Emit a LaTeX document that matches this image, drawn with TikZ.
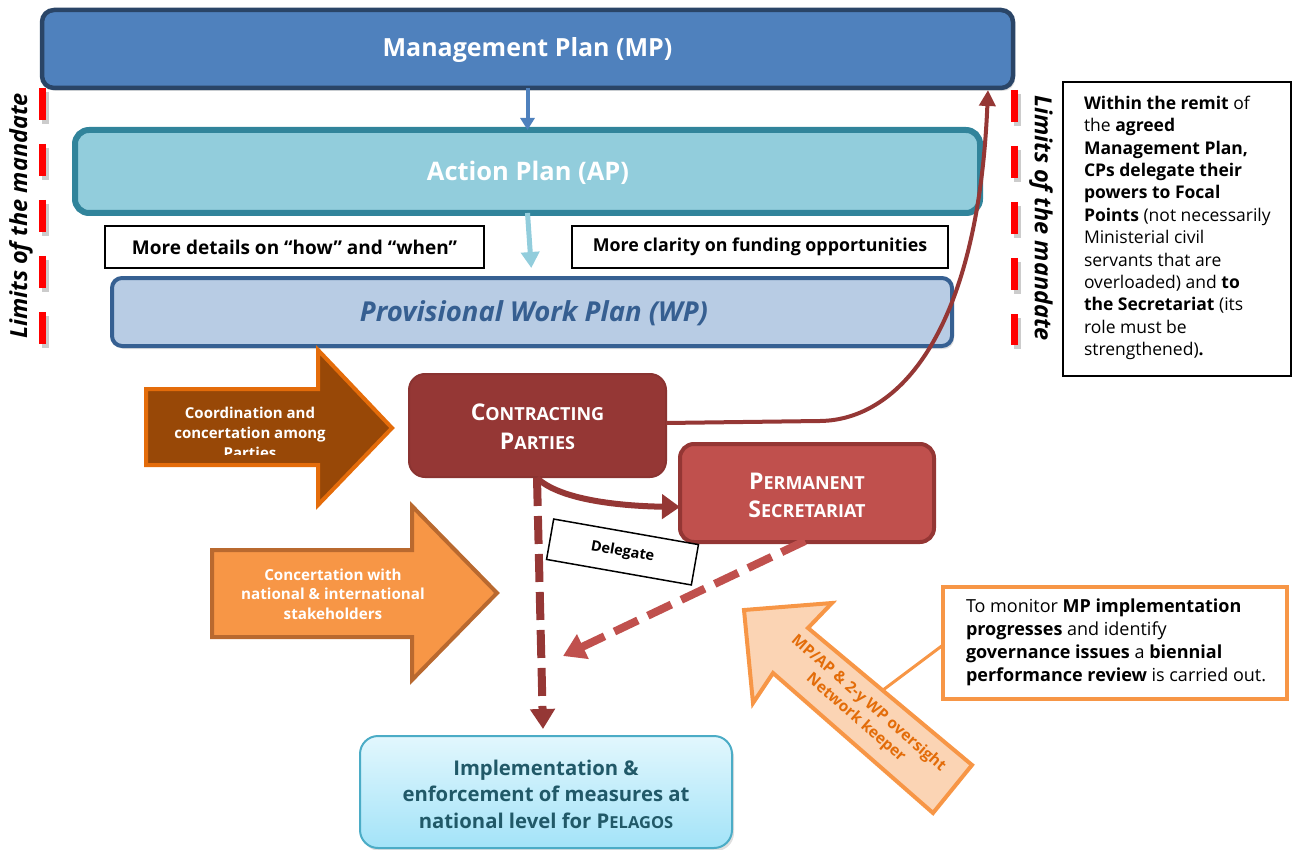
\documentclass[tikz,border=0pt]{standalone}
\usepackage{fontspec}
\setmainfont{Open Sans}
\usetikzlibrary{arrows.meta,shadows,calc}
\definecolor{mpfill}{HTML}{4F81BD}
\definecolor{mpline}{HTML}{2A4567}
\definecolor{apfill}{HTML}{92CDDC}
\definecolor{apline}{HTML}{31849B}
\definecolor{wpfill}{HTML}{B8CCE4}
\definecolor{wpline}{HTML}{366092}
\definecolor{wptext}{HTML}{365F91}
\definecolor{cpfill}{HTML}{953735}
\definecolor{cpline}{HTML}{8A3331}
\definecolor{psfill}{HTML}{C0504D}
\definecolor{psline}{HTML}{943634}
\definecolor{cofill}{HTML}{984807}
\definecolor{coline}{HTML}{E46C0A}
\definecolor{cnfill}{HTML}{F79646}
\definecolor{cnline}{HTML}{B9692F}
\definecolor{ovfill}{HTML}{FBD4B4}
\definecolor{ovline}{HTML}{F79646}
\definecolor{ovtext}{HTML}{E36C09}
\definecolor{imtop}{HTML}{E2F7FD}
\definecolor{imbot}{HTML}{A3E3F8}
\definecolor{imline}{HTML}{4BACC6}
\definecolor{imtext}{HTML}{215968}
\definecolor{redline}{HTML}{FF0000}
\newcommand{\scx}[1]{{\fontsize{18}{20}\selectfont #1}}
\newcommand{\scy}[1]{{\fontsize{16.5}{20}\selectfont #1}}
\begin{document}
\begin{tikzpicture}[x=1pt,y=-1pt,
  every node/.style={inner sep=0pt, outer sep=0pt},
  bigbox/.style={rounded corners=12pt, drop shadow={opacity=0.25,shadow xshift=2pt,shadow yshift=-3pt}},
  notebox/.style={draw=black, line width=1.5pt, fill=white},
  whitebold/.style={text=white, font=\bfseries},
  blockarrow/.style={line width=4pt, line join=miter},
  mandate/.style={draw=redline, line width=7pt, dash pattern=on 32pt off 24pt},
  mandateshadow/.style={draw=black!40, opacity=0.5, line width=7pt, dash pattern=on 32pt off 24pt},
  mandatetext/.style={font=\fontsize{23.5}{26}\selectfont\bfseries\itshape}
]
\useasboundingbox (0,0) rectangle (1292,850);

% ---- mandate limits
\coordinate (lt) at (42,88); \coordinate (lb) at (42,345);
\coordinate (rt) at (1014,90); \coordinate (rb) at (1014,345);
\draw[mandateshadow] ($(lt)+(3,4)$) -- ($(lb)+(3,4)$);
\draw[mandateshadow] ($(rt)+(3,4)$) -- ($(rb)+(3,4)$);
\draw[mandate] (lt) -- (lb);
\draw[mandate] (rt) -- (rb);
\node[mandatetext, rotate=90] (limL) at (21,216) {Limits of the mandate};
\node[mandatetext, rotate=-90] (limR) at (1041,218) {Limits of the mandate};

% ---- plans
\node[bigbox, draw=mpline, line width=4.5pt, fill=mpfill, minimum width=971pt, minimum height=78pt] (mp) at (527.5,49) {};
\node[whitebold, font=\fontsize{25}{28}\selectfont\bfseries] (mpt) at (527.5,50) {Management Plan (MP)};

\node[bigbox, draw=apline, line width=6pt, fill=apfill, rounded corners=14pt, minimum width=905pt, minimum height=83pt] (ap) at (527.5,171.5) {};
\node[whitebold, font=\fontsize{25.5}{28}\selectfont\bfseries] (apt) at (528,173) {Action Plan (AP)};

\node[bigbox, draw=wpline, line width=4pt, fill=wpfill, rounded corners=10pt, minimum width=840pt, minimum height=68pt] (wp) at (532,312) {};
\node[text=wptext, font=\fontsize{27.5}{30}\selectfont\bfseries\itshape] (wpt) at (534,313) {Provisional Work Plan (WP)};

\node[notebox, minimum width=379pt, minimum height=42pt, font=\fontsize{19}{20}\selectfont\bfseries] (how) at (294.5,247) {More details on “how” and “when”};
\node[notebox, minimum width=376pt, minimum height=42pt, font=\fontsize{17.8}{20}\selectfont\bfseries] (fund) at (760,247) {More clarity on funding opportunities};

\draw[mpfill, line width=4pt, -{Triangle[length=12pt,width=14pt]}] (mp.south) -- (ap.north);
\draw[apfill, line width=5pt, -{Triangle[length=16pt,width=18pt]}, shorten >=10pt] (ap.south) -- (wp.north);

% ---- right note
\node[notebox, minimum width=228pt, minimum height=294pt] (remit) at (1177,229) {};
\node[anchor=north west, align=left, font=\fontsize{17.5}{22.4}\selectfont] (remitt) at (1084,96)
 {\textbf{Within the remit} of\\ the \textbf{agreed}\\ \textbf{Management Plan,}\\ \textbf{CPs delegate their}\\ \textbf{powers to Focal}\\ \textbf{Points} (not necessarily\\ Ministerial civil\\ servants that are\\ overloaded) and \textbf{to}\\ \textbf{the Secretariat} (its\\ role must be\\ strengthened)\textbf{.}};

% ---- coordination arrow
\draw[blockarrow, draw=coline, fill=cofill] (146,389) -- (318,389) -- (318,350) -- (392,428) -- (318,505) -- (318,465) -- (146,465) -- cycle;
\begin{scope}
\clip (148,391) rectangle (390,454);
\node[whitebold, align=center, font=\fontsize{15}{20}\selectfont\bfseries] (coord) at (250,433) {Coordination and\\ concertation among\\ Parties};
\end{scope}

% ---- concertation arrow
\draw[blockarrow, draw=cnline, fill=cnfill] (212,550) -- (412,550) -- (412,506) -- (497,593) -- (412,680) -- (412,637) -- (212,637) -- cycle;
\node[whitebold, align=center, font=\fontsize{15.2}{19.5}\selectfont\bfseries] (conc) at (333,594) {Concertation with\\ national \& international\\ stakeholders};

% ---- contracting parties & secretariat
\node[draw=cpline, line width=2pt, fill=cpfill, rounded corners=16pt, minimum width=257pt, minimum height=103pt] (cp) at (537.5,425.5) {};
\node[whitebold, align=center, font=\fontsize{23}{29}\selectfont\bfseries] (cpt) at (537.5,427) {C\scx{ONTRACTING}\\ P\scx{ARTIES}};

\node[draw=psline, line width=4pt, fill=psfill, rounded corners=14pt, minimum width=254pt, minimum height=98pt] (ps) at (807,493) {};
\node[whitebold, align=center, font=\fontsize{23}{28}\selectfont\bfseries] (pst) at (807,495) {P\scx{ERMANENT}\\ S\scx{ECRETARIAT}};

% ---- implementation
\node[draw=imline, line width=2pt, top color=imtop, bottom color=imbot, rounded corners=18pt, minimum width=372pt, minimum height=112pt, drop shadow={opacity=0.25,shadow xshift=2pt,shadow yshift=-3pt}] (impl) at (546,792) {};
\node[text=imtext, align=center, font=\fontsize{20.3}{26.5}\selectfont\bfseries] (implt) at (546,794) {Implementation \&\\ enforcement of measures at\\ national level for P\scy{ELAGOS}};

% ---- connectors from contracting parties
\coordinate (cpbot) at (537,478);
\coordinate (mpend) at (988,90);
\draw[cpfill, line width=4pt, -{Triangle[length=16pt,width=16pt]}] (cp.east |- 0,423) -- (820,421) .. controls (900,420) and (978,330) .. (mpend);
\draw[cpfill, line width=6pt, -{Triangle[length=18pt,width=24pt]}] (cpbot) .. controls (560,500) and (620,506) .. (ps.west |- 0,507);
\draw[cpfill, line width=8pt, dash pattern=on 28pt off 10pt, -{Triangle[length=20pt,width=24pt]}] (cpbot) -- (543,729);
\coordinate (secend) at (563,656);
\draw[psfill, line width=8pt, dash pattern=on 26pt off 11pt, -{Triangle[length=22pt,width=26pt]}] (805,541) -- (secend);

\node[notebox, rotate=-10, minimum width=147pt, minimum height=41pt, font=\fontsize{14.5}{16}\selectfont\bfseries] (deleg) at (622.5,552) {Delegate};

% ---- oversight arrow
\draw[blockarrow, draw=ovline, fill=ovfill] (744,610) -- (832,603) -- (808,628) -- (972,765) -- (933,813) -- (773,673) -- (753,703) -- cycle;
\node[text=ovtext, rotate=-41, align=center, font=\fontsize{15.5}{19}\selectfont\bfseries] (ovt) at (862,711) {MP/AP \& 2-y WP oversight\\ Network keeper};

% ---- review note
\node[draw=ovline, line width=4pt, fill=white, minimum width=344pt, minimum height=112pt] (review) at (1115,643) {};
\node[anchor=north west, align=left, font=\fontsize{18}{23}\selectfont] (reviewt) at (966,599)
 {To monitor \textbf{MP implementation}\\ \textbf{progresses} and identify\\ \textbf{governance issues} a \textbf{biennial}\\ \textbf{performance review} is carried out.};
\draw[ovline, line width=3pt] (883,690) -- (review.west |- 0,645);
\end{tikzpicture}
\end{document}
